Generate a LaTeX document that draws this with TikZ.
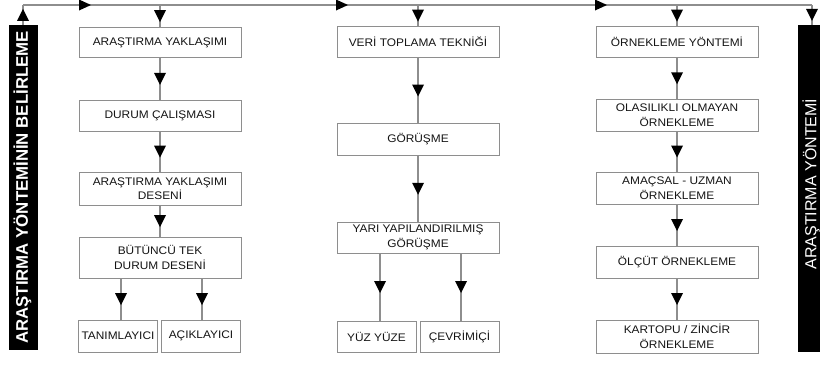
\documentclass[tikz,border=0pt]{standalone}
\usepackage{fontspec}
\setmainfont{Liberation Sans}[FakeStretch=1.08]
\newfontfamily\barfont{Liberation Sans}
\usetikzlibrary{decorations.markings}

\definecolor{edgegray}{HTML}{8E8E8E}
\definecolor{textdark}{HTML}{141414}

\tikzset{
  box/.style={draw=edgegray, line width=0.9pt, fill=white, minimum width=162pt,
    inner sep=0pt, align=center, text=textdark,
    font=\fontsize{11}{14.5}\selectfont},
  smallbox/.style={box, minimum width=79pt},
  link/.style={draw=edgegray, line width=1.1pt},
  midarrow/.style={decoration={markings,
      mark=at position 0.5 with {\fill[black] (6pt,0pt) -- (-6pt,6pt) -- (-6pt,-6pt) -- cycle;}},
    postaction={decorate}},
  toparrows/.style={decoration={markings,
      mark=at position 62pt with {\fill[black] (6pt,0pt) -- (-6pt,5.5pt) -- (-6pt,-5.5pt) -- cycle;},
      mark=at position 319pt with {\fill[black] (6pt,0pt) -- (-6pt,5.5pt) -- (-6pt,-5.5pt) -- cycle;},
      mark=at position 578pt with {\fill[black] (6pt,0pt) -- (-6pt,5.5pt) -- (-6pt,-5.5pt) -- cycle;}},
    postaction={decorate}},
  sidebar/.style={fill=black, inner sep=0pt},
  bartext/.style={rotate=90, text=white, inner sep=0pt},
}

\begin{document}
\begin{tikzpicture}[x=1pt, y=-1pt]
  \useasboundingbox (0,0) rectangle (820,365);

  % side bars
  \node[sidebar, minimum width=29pt, minimum height=325pt] (lbar) at (23,187.5) {};
  \node[bartext, font=\barfont\fontsize{16.8}{18}\selectfont\bfseries] (ltext) at (22.5,187.5)
    {ARAŞTIRMA YÖNTEMİNİN BELİRLEME};
  \node[sidebar, minimum width=22pt, minimum height=327pt] (rbar) at (809,188.5) {};
  \node[bartext, font=\barfont\fontsize{16}{18}\selectfont] (rtext) at (811,184)
    {ARAŞTIRMA YÖNTEMİ};

  % column 1
  \node[box, minimum height=30pt] (a1) at (160,42.5) {ARAŞTIRMA YAKLAŞIMI};
  \node[box, minimum height=31pt] (a2) at (160,115.5) {DURUM ÇALIŞMASI};
  \node[box, minimum height=33pt] (a3) at (160,188.5) {ARAŞTIRMA YAKLAŞIMI\\DESENİ};
  \node[box, minimum height=41pt] (a4) at (160,257.5) {BÜTÜNCÜ TEK\\DURUM DESENİ};
  \node[smallbox, minimum height=32pt] (a5) at (118,336) {TANIMLAYICI};
  \node[smallbox, minimum height=32pt] (a6) at (201,336) {AÇIKLAYICI};

  % column 2
  \node[box, minimum height=31pt] (b1) at (418,42) {VERİ TOPLAMA TEKNİĞİ};
  \node[box, minimum height=32pt] (b2) at (418,139.5) {GÖRÜŞME};
  \node[box, minimum height=31pt] (b3) at (418,237.5) {YARI YAPILANDIRILMIŞ\\GÖRÜŞME};
  \node[smallbox, minimum height=31pt] (b4) at (376.5,336.5) {YÜZ YÜZE};
  \node[smallbox, minimum height=31pt] (b5) at (459.5,336.5) {ÇEVRİMİÇİ};

  % column 3
  \node[box, minimum height=31pt] (c1) at (677,42) {ÖRNEKLEME YÖNTEMİ};
  \node[box, minimum height=32pt] (c2) at (677,115) {OLASILIKLI OLMAYAN\\ÖRNEKLEME};
  \node[box, minimum height=32pt] (c3) at (677,188) {AMAÇSAL - UZMAN\\ÖRNEKLEME};
  \node[box, minimum height=32pt] (c4) at (677,262) {ÖLÇÜT ÖRNEKLEME};
  \node[box, minimum height=33pt] (c5) at (677,336.5) {KARTOPU / ZİNCİR\\ÖRNEKLEME};

  % top rail
  \coordinate (tl) at (23,5);
  \coordinate (tr) at (812,5);
  \draw[link, midarrow] (lbar.north) -- (tl);
  \draw[link, toparrows] (tl) -- (tr);
  \draw[link, midarrow] (tr) -- (tr |- rbar.north);
  \draw[link, midarrow] (tl -| a1.north) -- (a1.north);
  \draw[link, midarrow] (tl -| b1.north) -- (b1.north);
  \draw[link, midarrow] (tl -| c1.north) -- (c1.north);

  % column 1 links
  \draw[link, midarrow] (a1) -- (a2);
  \draw[link, midarrow] (a2) -- (a3);
  \draw[link, midarrow] (a3) -- (a4);
  \draw[link, midarrow] ([xshift=3pt]a5.north |- a4.south) -- ([xshift=3pt]a5.north);
  \draw[link, midarrow] ([xshift=1pt]a6.north |- a4.south) -- ([xshift=1pt]a6.north);

  % column 2 links
  \draw[link, midarrow] (b1) -- (b2);
  \draw[link, midarrow] (b2) -- (b3);
  \draw[link, midarrow] ([xshift=3.5pt]b4.north |- b3.south) -- ([xshift=3.5pt]b4.north);
  \draw[link, midarrow] ([xshift=1.5pt]b5.north |- b3.south) -- ([xshift=1.5pt]b5.north);

  % column 3 links
  \draw[link, midarrow] (c1) -- (c2);
  \draw[link, midarrow] (c2) -- (c3);
  \draw[link, midarrow] (c3) -- (c4);
  \draw[link, midarrow] (c4) -- (c5);
\end{tikzpicture}
\end{document}
